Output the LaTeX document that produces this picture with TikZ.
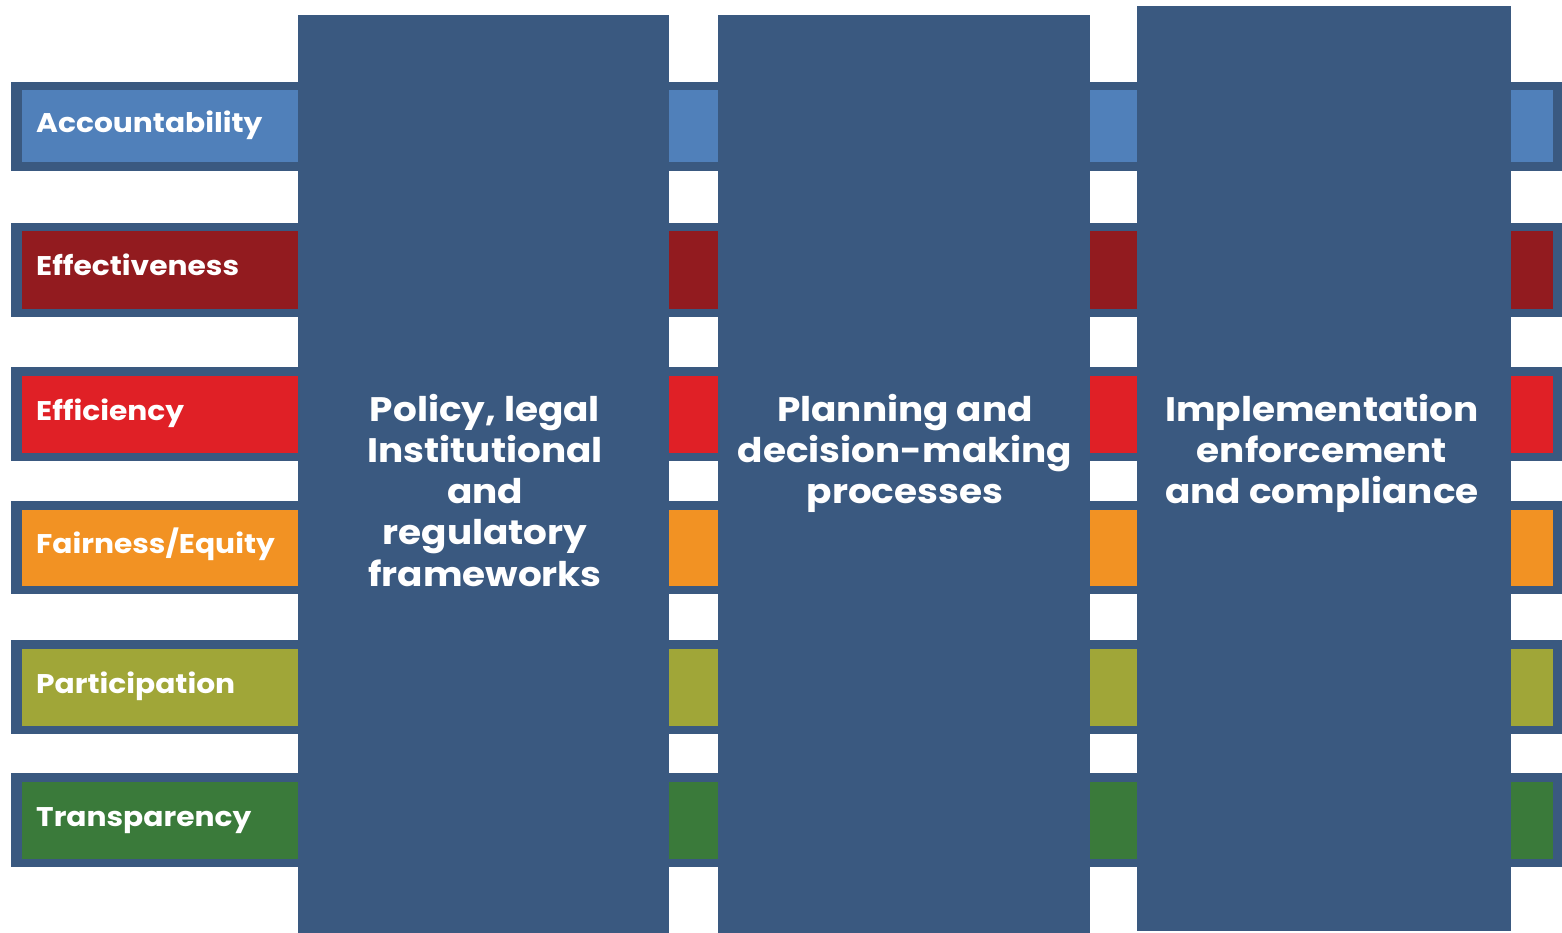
\documentclass[tikz,border=0pt]{standalone}
\usepackage{fontspec}
\setmainfont{Poppins}
\newfontfamily\lblfont[FakeStretch=1.1]{Poppins}
\definecolor{navy}{RGB}{58,89,128}
\definecolor{cAcc}{RGB}{80,128,186}
\definecolor{cEff}{RGB}{146,27,31}
\definecolor{cEfi}{RGB}{224,32,38}
\definecolor{cFai}{RGB}{242,146,35}
\definecolor{cPar}{RGB}{160,166,56}
\definecolor{cTra}{RGB}{58,122,58}
\tikzset{
  bandlbl/.style={text=white, anchor=base west, inner sep=0pt, font=\lblfont\bfseries\fontsize{27}{32}\selectfont},
  colline/.style={text=white, anchor=base, inner sep=0pt, font=\lblfont\bfseries\fontsize{34}{41}\selectfont},
}
\begin{document}
\begin{tikzpicture}[x=1pt,y=-1pt]
\useasboundingbox (0,0) rectangle (1562,933);
\fill[white] (0,0) rectangle (1562,933);
% bands: top outer, bottom outer, colour, label, name
\foreach \t/\b/\c/\l/\n in {82/171/cAcc/Accountability/acc, 223/317/cEff/Effectiveness/eff, 367/461/cEfi/Efficiency/efi, 501/594/cFai/Fairness\slash Equity/fai, 640/734/cPar/Participation/par, 773/867/cTra/Transparency/tra}{
  \fill[navy] (11,\t) rectangle (1562,\b);
  \fill[\c] (22,\t+8.5) rectangle (1553,\b-8.5);
  \node[bandlbl] (\n) at (36,{(\t+\b)/2+6}) {\l};
}
% columns
\fill[navy] (298,15) rectangle (669,933);
\fill[navy] (718,15) rectangle (1090,933);
\fill[navy] (1137,6) rectangle (1511,931);
% column texts
\foreach \txt [count=\i] in {{Policy, legal},Institutional,and,regulatory,frameworks}{
  \node[colline] (p\i) at (485,{421+41.3*(\i-1)}) {\txt};
}
\foreach \txt [count=\i] in {Planning and,decision-making,processes}{
  \node[colline] (d\i) at (905,{421+41.3*(\i-1)}) {\txt};
}
\foreach \txt [count=\i] in {Implementation,enforcement,and compliance}{
  \node[colline] (m\i) at (1322,{421+41.3*(\i-1)}) {\txt};
}
\end{tikzpicture}
\end{document}
